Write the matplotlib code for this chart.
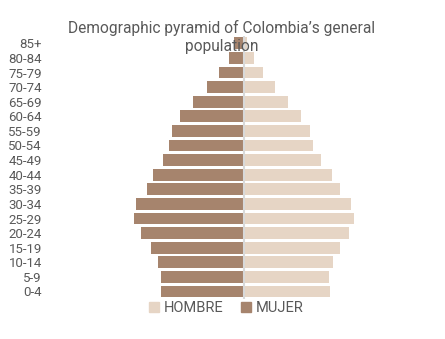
import matplotlib
matplotlib.use("Agg")
import matplotlib.pyplot as plt
from matplotlib.patches import Patch

age_groups = ["0-4", "5-9", "10-14", "15-19", "20-24", "25-29", "30-34", "35-39",
              "40-44", "45-49", "50-54", "55-59", "60-64", "65-69", "70-74",
              "75-79", "80-84", "85+"]
# values in thousands (approximate)
mujer = [1600, 1600, 1660, 1800, 1990, 2130, 2090, 1880, 1760, 1570, 1450,
         1390, 1240, 985, 715, 480, 285, 180]
hombre = [1670, 1650, 1730, 1860, 2040, 2135, 2080, 1860, 1710, 1500, 1340,
          1280, 1105, 855, 600, 370, 195, 60]

title = "Demographic pyramid of Colombia\u2019s general\npopulation"
c_hombre = "#e6d5c5"
c_mujer = "#a6846d"
txt = "#595959"

W, H = 445, 339
fig = plt.figure(figsize=(W / 100, H / 100), dpi=100)
left_px, right_px = 50, 430
top_px, bot_px = 36.0, 298.8
ax = fig.add_axes([left_px / W, 1 - bot_px / H, (right_px - left_px) / W, (bot_px - top_px) / H])

scale = 110 / 2135.0  # px per thousand
center_px = 243.7
xmin = -(center_px - left_px) / scale
xmax = (right_px - center_px) / scale

y = list(range(len(age_groups)))
ax.barh(y, [-v for v in mujer], height=0.8, color=c_mujer, zorder=2)
ax.barh(y, hombre, height=0.8, color=c_hombre, zorder=2)
ax.axvline(0, color="#d9d9d9", lw=1.5, zorder=3)

ax.set_xlim(xmin, xmax)
ax.set_ylim(-0.5, len(age_groups) - 0.5)
ax.set_yticks(y)
ax.set_yticklabels(age_groups, fontsize=9.5, color=txt, family="Roboto")
ax.tick_params(axis="y", length=0, pad=5.8)
ax.set_xticks([])
for s in ax.spines.values():
    s.set_visible(False)

fig.text(222 / W, 1 - 37 / H, title, ha="center", va="center", fontsize=11.2,
         color=txt, family="Roboto", linespacing=1.2, zorder=10)

handles = [Patch(color=c_hombre, label="HOMBRE"), Patch(color=c_mujer, label="MUJER")]
fig.legend(handles=handles, loc="center", bbox_to_anchor=(226 / W, 1 - 308 / H),
           ncol=2, frameon=False, prop={"family": "Roboto", "size": 10.5},
           labelcolor=txt, handlelength=0.7, handleheight=0.7, handletextpad=0.3,
           columnspacing=1.2)

fig.savefig("out.png", dpi=100)
